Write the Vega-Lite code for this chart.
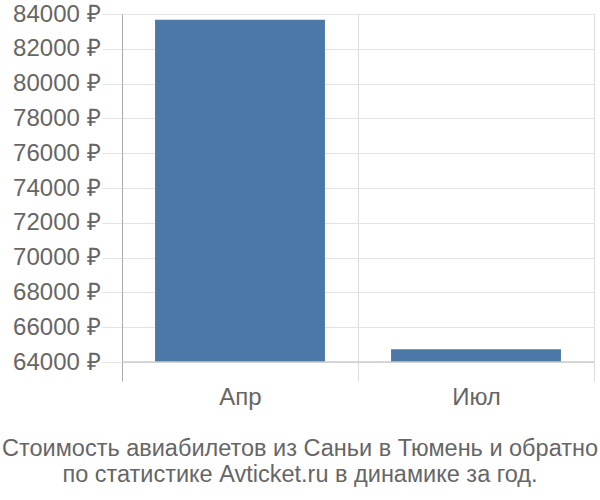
{
  "$schema": "https://vega.github.io/schema/vega-lite/v6.json",
  "width": 472,
  "height": 367,
  "autosize": "none",
  "padding": {"left": 122, "top": 14, "right": 6, "bottom": 119},
  "data": {
    "values": [
      {"month": "Апр", "price": 83670},
      {"month": "Июл", "price": 64730}
    ]
  },
  "title": {
    "text": ["Стоимость авиабилетов из Саньи в Тюмень и обратно", "по статистике Avticket.ru в динамике за год."],
    "orient": "bottom",
    "anchor": "middle",
    "dx": -58,
    "offset": 28,
    "fontSize": 23.5,
    "lineHeight": 26,
    "font": "Liberation Sans",
    "fontWeight": "normal",
    "color": "#666666"
  },
  "layer": [
    {
      "mark": {"type": "bar", "color": "#4c78a8", "width": {"band": 0.72}},
      "encoding": {
        "x": {
          "field": "month",
          "type": "nominal",
          "sort": null,
          "scale": {"paddingInner": 0, "paddingOuter": 0},
          "axis": {
            "title": null,
            "tickBand": "extent",
            "grid": true,
            "gridColor": "#dddddd",
            "domain": false,
            "ticks": false,
            "labelAngle": 0,
            "labelFont": "Liberation Sans",
            "labelFontSize": 24,
            "labelColor": "#666666",
            "labelPadding": 4
          }
        },
        "y": {
          "field": "price",
          "type": "quantitative",
          "scale": {"domain": [62910, 84000], "nice": false, "zero": false},
          "axis": {
            "title": null,
            "values": [64000, 66000, 68000, 70000, 72000, 74000, 76000, 78000, 80000, 82000, 84000],
            "tickCount": 30,
            "labelExpr": "format(datum.value, 'd') + ' ₽'",
            "labelOverlap": false,
            "grid": true,
            "gridColor": "#e3e3e3",
            "tickSize": 20,
            "tickColor": "#e3e3e3",
            "domain": true,
            "domainColor": "#aaaaaa",
            "labelPadding": 2,
            "labelFont": "Liberation Sans",
            "labelFontSize": 24,
            "labelColor": "#666666"
          }
        },
        "y2": {"datum": 64000}
      }
    },
    {
      "mark": {"type": "rule", "color": "#cccccc"},
      "encoding": {"y": {"datum": 64000}}
    }
  ],
  "config": {
    "view": {"stroke": null},
    "axisY": {"labelOverlap": false}
  }
}
